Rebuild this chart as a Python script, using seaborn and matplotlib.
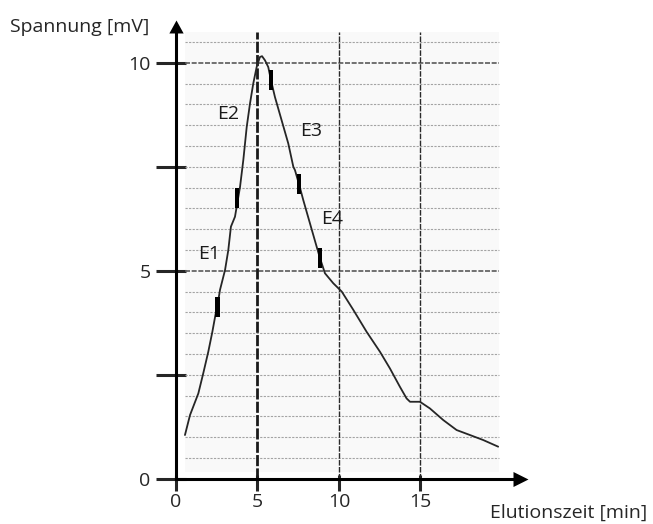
import numpy as np
import pandas as pd
import matplotlib
matplotlib.use("Agg")
import matplotlib.pyplot as plt
from matplotlib.path import Path
from matplotlib.ticker import FixedLocator
import seaborn as sns

# ---- data ----
elution_time = [0.55, 0.86, 1.37, 1.67, 1.98, 2.23, 2.44, 2.60, 2.70, 3.01, 3.21, 3.37,
                3.62, 3.93, 4.13, 4.34, 4.54, 4.74, 4.95, 5.15, 5.28, 5.46, 5.66, 5.83,
                6.07, 6.48, 6.89, 7.20, 7.30, 7.55, 7.81, 8.22, 8.63, 8.83, 9.14, 9.65,
                10.17, 10.88, 11.70, 12.52, 13.13, 13.74, 14.15, 14.36, 14.97, 15.58,
                16.40, 17.22, 18.04, 18.85, 19.77]
voltage = [1.05, 1.53, 2.05, 2.53, 3.05, 3.53, 3.98, 4.30, 4.54, 5.02, 5.50, 6.06,
           6.30, 7.02, 7.66, 8.46, 9.02, 9.50, 9.90, 10.14, 10.16, 10.06, 9.90, 9.58,
           9.18, 8.62, 8.06, 7.50, 7.42, 7.08, 6.70, 6.14, 5.58, 5.31, 4.94, 4.70,
           4.50, 4.06, 3.53, 3.05, 2.65, 2.21, 1.93, 1.85, 1.85, 1.69,
           1.41, 1.17, 1.05, 0.93, 0.77]

marker_time = [2.55, 3.74, 5.83, 7.55, 8.83]
marker_voltage = [4.13, 6.75, 9.58, 7.08, 5.31]

fraction_labels = ["E1", "E2", "E3", "E4"]
fraction_time = [2.05, 3.19, 8.31, 9.57]
fraction_voltage = [5.40, 8.77, 8.35, 6.24]

x_ticks = [0, 5, 10, 15]
x_tick_labels = ["0", "5", "10", "15"]
y_ticks = [0, 2.5, 5, 7.5, 10]
y_tick_labels = ["0", "", "5", "", "10"]
paper_lines = list(np.arange(0.5, 10.51, 0.5))
paper_major = [5, 10, 15]

x_label = "Elutionszeit [min]"
y_label = "Spannung [mV]"

# ---- style ----
sns.set_style("white")
plt.rcParams["font.family"] = ["Open Sans", "DejaVu Sans"]

W, H = 653, 524
fig = plt.figure(figsize=(W / 100, H / 100), dpi=100)
x0, x1 = 176, 528
y0, y1 = 478.7, 20
ax = fig.add_axes([x0 / W, (H - y0) / H, (x1 - x0) / W, (y0 - y1) / H])
ax.set_xlim(0, 21.6)
ax.set_ylim(0, 11.03)
ax.set_facecolor("none")

# paper background and ruling
ax.fill_between([0.55, 19.8], 0.16, 10.74, color="#f9f9f9", lw=0, zorder=0)
minor_rules = [v for v in paper_lines if v not in (5, 10)]
ax.hlines(minor_rules, 0.55, 19.8, color="#a4a4a4", lw=0.8,
          linestyles=[(0, (2.0, 1.2))], zorder=1)
ax.hlines([5, 10], 0.55, 19.8, color="#5a5a5a", lw=1.2,
          linestyles=[(0, (3, 1))], zorder=1)
ax.vlines(paper_major[1:], 0, 10.74, color="#2a2a2a", lw=1.0,
          linestyles=[(0, (4, 1))], zorder=1)
ax.vlines(paper_major[:1], 0, 10.74, color="#1a1a1a", lw=2.0,
          linestyles=[(0, (4, 0.8))], zorder=1)

# curve
df = pd.DataFrame({"t": elution_time, "u": voltage})
sns.lineplot(data=df, x="t", y="u", ax=ax, color="#262626", lw=1.3,
             sort=False, zorder=3)

# fraction markers
rect = Path([(-0.11, -0.5), (0.11, -0.5), (0.11, 0.5), (-0.11, 0.5), (-0.11, -0.5)],
            [Path.MOVETO, Path.LINETO, Path.LINETO, Path.LINETO, Path.CLOSEPOLY])
mdf = pd.DataFrame({"t": marker_time, "u": marker_voltage})
sns.scatterplot(data=mdf, x="t", y="u", ax=ax, marker=rect, s=207,
                color="black", edgecolor="none", linewidth=0, zorder=4)

for name, t, u in zip(fraction_labels, fraction_time, fraction_voltage):
    ax.text(t, u, name, ha="center", va="center", fontsize=14, color="#1a1a1a", zorder=5)

# axes
for s in ("top", "right"):
    ax.spines[s].set_visible(False)
for s in ("left", "bottom"):
    ax.spines[s].set_linewidth(2.2)
    ax.spines[s].set_color("black")
ax.spines["left"].set_bounds(0, 11.03 - 13 / 41.6)
ax.spines["bottom"].set_bounds(0, 21.6 - 15 / 16.3)

ax.xaxis.set_major_locator(FixedLocator(x_ticks))
ax.set_xticklabels(x_tick_labels)
ax.yaxis.set_major_locator(FixedLocator(y_ticks))
ax.set_yticklabels(y_tick_labels)
ax.xaxis.set_minor_locator(FixedLocator(x_ticks))
ax.yaxis.set_minor_locator(FixedLocator(y_ticks))
ax.xaxis.remove_overlapping_locs = False
ax.yaxis.remove_overlapping_locs = False

ax.tick_params(axis="y", which="major", direction="out", length=14.4, width=2.2,
               pad=4, labelsize=14, left=True)
ax.tick_params(axis="y", which="minor", direction="in", length=7.2, width=2.2, left=True)
ax.tick_params(axis="x", which="major", direction="out", length=8.6, width=2.2,
               pad=2, labelsize=14, bottom=True)
ax.tick_params(axis="x", which="minor", direction="in", length=2.9, width=2.2, bottom=True)
ax.set_xlabel("")
ax.set_ylabel("")

# arrow heads
up = Path([(0, 0), (-0.55, -1), (0.55, -1), (0, 0)],
          [Path.MOVETO, Path.LINETO, Path.LINETO, Path.CLOSEPOLY])
right = Path([(0, 0), (-1, 0.5), (-1, -0.5), (0, 0)],
             [Path.MOVETO, Path.LINETO, Path.LINETO, Path.CLOSEPOLY])
ax.plot([0], [1], marker=up, markersize=18.7, color="black", mew=0,
        transform=ax.transAxes, clip_on=False)
ax.plot([1], [0], marker=right, markersize=21.6, color="black", mew=0,
        transform=ax.transAxes, clip_on=False)

fig.text(10 / W, (H - 32) / H, y_label, fontsize=14, ha="left", va="baseline")
fig.text(490 / W, (H - 518) / H, x_label, fontsize=14, ha="left", va="baseline")

fig.savefig("out.png", dpi=100)
